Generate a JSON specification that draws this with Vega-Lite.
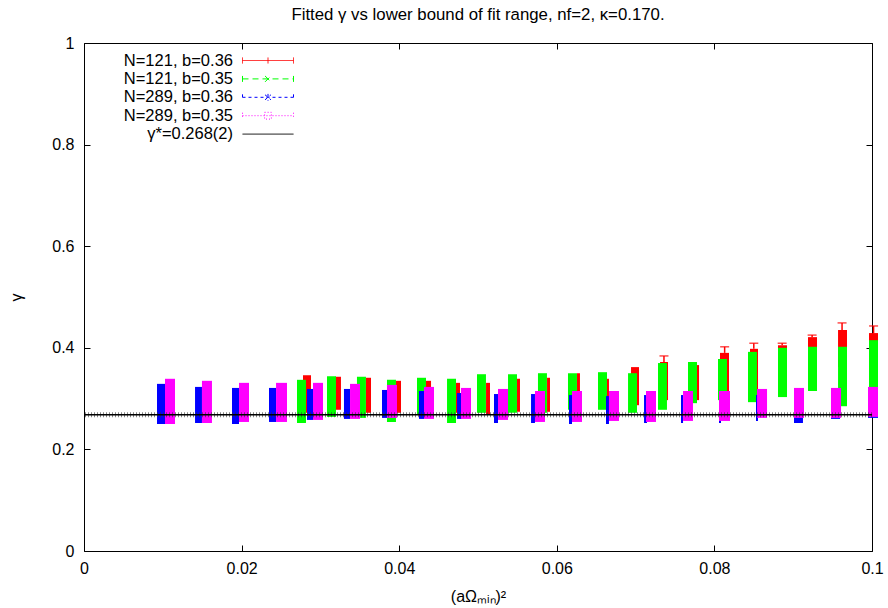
{
  "$schema": "https://vega.github.io/schema/vega-lite/v6.json",
  "width": 788,
  "height": 508,
  "autosize": {"type": "none"},
  "padding": {"left": 84, "top": 43, "right": 16, "bottom": 57},
  "background": "white",
  "title": {"text": "Fitted γ vs lower bound of fit range, nf=2, κ=0.170.", "fontSize": 16.8, "fontWeight": "normal", "font": "Liberation Sans", "color": "black", "frame": "group", "anchor": "middle", "offset": 11},
  "config": {
    "font": "Liberation Sans",
    "view": {"stroke": "black", "strokeWidth": 1},
    "axis": {"domain": false, "grid": false, "tickColor": "black", "tickSize": -6, "tickWidth": 1, "labelFont": "Liberation Sans", "labelFontSize": 16, "labelColor": "black", "titleFont": "Liberation Sans", "titleFontSize": 16, "titleFontWeight": "normal", "titleColor": "black", "labelFlush": false, "labelOverlap": false}
  },
  "datasets": {
    "clusters": [
      {"s": "N=121, b=0.36", "a": 0.02779, "b": 0.02881, "lo": 0.272, "hi": 0.346},
      {"s": "N=121, b=0.36", "a": 0.03185, "b": 0.03261, "lo": 0.278, "hi": 0.343},
      {"s": "N=121, b=0.36", "a": 0.03579, "b": 0.03642, "lo": 0.272, "hi": 0.341},
      {"s": "N=121, b=0.36", "a": 0.03959, "b": 0.04023, "lo": 0.272, "hi": 0.335},
      {"s": "N=121, b=0.36", "a": 0.04340, "b": 0.04404, "lo": 0.268, "hi": 0.335},
      {"s": "N=121, b=0.36", "a": 0.04721, "b": 0.04772, "lo": 0.272, "hi": 0.331},
      {"s": "N=121, b=0.36", "a": 0.05102, "b": 0.05152, "lo": 0.268, "hi": 0.331},
      {"s": "N=121, b=0.36", "a": 0.05495, "b": 0.05533, "lo": 0.274, "hi": 0.339},
      {"s": "N=121, b=0.36", "a": 0.05876, "b": 0.05914, "lo": 0.274, "hi": 0.341},
      {"s": "N=121, b=0.36", "a": 0.06256, "b": 0.06294, "lo": 0.274, "hi": 0.350},
      {"s": "N=121, b=0.36", "a": 0.06637, "b": 0.06662, "lo": 0.274, "hi": 0.339},
      {"s": "N=121, b=0.36", "a": 0.06942, "b": 0.07043, "lo": 0.287, "hi": 0.362},
      {"s": "N=121, b=0.36", "a": 0.07310, "b": 0.07411, "lo": 0.297, "hi": 0.372, "xc": 0.0736, "cap": 0.384},
      {"s": "N=121, b=0.36", "a": 0.07779, "b": 0.07805, "lo": 0.297, "hi": 0.366},
      {"s": "N=121, b=0.36", "a": 0.08071, "b": 0.08185, "lo": 0.307, "hi": 0.390, "xc": 0.0813, "cap": 0.402},
      {"s": "N=121, b=0.36", "a": 0.08452, "b": 0.08553, "lo": 0.307, "hi": 0.398, "xc": 0.0850, "cap": 0.409},
      {"s": "N=121, b=0.36", "a": 0.08807, "b": 0.08921, "lo": 0.317, "hi": 0.405, "xc": 0.0886, "cap": 0.409},
      {"s": "N=121, b=0.36", "a": 0.09188, "b": 0.09302, "lo": 0.362, "hi": 0.421, "xc": 0.0924, "cap": 0.425},
      {"s": "N=121, b=0.36", "a": 0.09569, "b": 0.09683, "lo": 0.362, "hi": 0.435, "xc": 0.0962, "cap": 0.449},
      {"s": "N=121, b=0.36", "a": 0.09962, "b": 0.10076, "lo": 0.356, "hi": 0.429, "xc": 0.1002, "cap": 0.443},
      {"s": "N=121, b=0.35", "a": 0.02703, "b": 0.02817, "lo": 0.252, "hi": 0.337},
      {"s": "N=121, b=0.35", "a": 0.03084, "b": 0.03198, "lo": 0.264, "hi": 0.344},
      {"s": "N=121, b=0.35", "a": 0.03464, "b": 0.03578, "lo": 0.262, "hi": 0.343},
      {"s": "N=121, b=0.35", "a": 0.03845, "b": 0.03959, "lo": 0.254, "hi": 0.337},
      {"s": "N=121, b=0.35", "a": 0.04226, "b": 0.04340, "lo": 0.268, "hi": 0.341},
      {"s": "N=121, b=0.35", "a": 0.04607, "b": 0.04721, "lo": 0.252, "hi": 0.339},
      {"s": "N=121, b=0.35", "a": 0.04987, "b": 0.05101, "lo": 0.272, "hi": 0.348},
      {"s": "N=121, b=0.35", "a": 0.05381, "b": 0.05495, "lo": 0.272, "hi": 0.348},
      {"s": "N=121, b=0.35", "a": 0.05761, "b": 0.05875, "lo": 0.272, "hi": 0.350},
      {"s": "N=121, b=0.35", "a": 0.06142, "b": 0.06256, "lo": 0.278, "hi": 0.350},
      {"s": "N=121, b=0.35", "a": 0.06523, "b": 0.06637, "lo": 0.278, "hi": 0.352},
      {"s": "N=121, b=0.35", "a": 0.06904, "b": 0.07018, "lo": 0.272, "hi": 0.350},
      {"s": "N=121, b=0.35", "a": 0.07284, "b": 0.07398, "lo": 0.278, "hi": 0.370},
      {"s": "N=121, b=0.35", "a": 0.07665, "b": 0.07779, "lo": 0.291, "hi": 0.372},
      {"s": "N=121, b=0.35", "a": 0.08046, "b": 0.08160, "lo": 0.297, "hi": 0.378},
      {"s": "N=121, b=0.35", "a": 0.08426, "b": 0.08540, "lo": 0.293, "hi": 0.392},
      {"s": "N=121, b=0.35", "a": 0.08807, "b": 0.08921, "lo": 0.303, "hi": 0.400},
      {"s": "N=121, b=0.35", "a": 0.09188, "b": 0.09302, "lo": 0.315, "hi": 0.402},
      {"s": "N=121, b=0.35", "a": 0.09569, "b": 0.09683, "lo": 0.285, "hi": 0.402},
      {"s": "N=121, b=0.35", "a": 0.09962, "b": 0.10076, "lo": 0.290, "hi": 0.415},
      {"s": "N=289, b=0.36", "a": 0.00926, "b": 0.01028, "lo": 0.250, "hi": 0.329},
      {"s": "N=289, b=0.36", "a": 0.01409, "b": 0.01497, "lo": 0.252, "hi": 0.323},
      {"s": "N=289, b=0.36", "a": 0.01878, "b": 0.01967, "lo": 0.250, "hi": 0.321},
      {"s": "N=289, b=0.36", "a": 0.02348, "b": 0.02437, "lo": 0.254, "hi": 0.321},
      {"s": "N=289, b=0.36", "a": 0.02830, "b": 0.02906, "lo": 0.258, "hi": 0.319},
      {"s": "N=289, b=0.36", "a": 0.03299, "b": 0.03376, "lo": 0.260, "hi": 0.319},
      {"s": "N=289, b=0.36", "a": 0.03782, "b": 0.03845, "lo": 0.262, "hi": 0.317},
      {"s": "N=289, b=0.36", "a": 0.04251, "b": 0.04315, "lo": 0.260, "hi": 0.315},
      {"s": "N=289, b=0.36", "a": 0.04734, "b": 0.04797, "lo": 0.260, "hi": 0.311},
      {"s": "N=289, b=0.36", "a": 0.05203, "b": 0.05254, "lo": 0.252, "hi": 0.309},
      {"s": "N=289, b=0.36", "a": 0.05673, "b": 0.05723, "lo": 0.252, "hi": 0.309},
      {"s": "N=289, b=0.36", "a": 0.06155, "b": 0.06193, "lo": 0.250, "hi": 0.307},
      {"s": "N=289, b=0.36", "a": 0.06624, "b": 0.06662, "lo": 0.250, "hi": 0.305},
      {"s": "N=289, b=0.36", "a": 0.07107, "b": 0.07145, "lo": 0.252, "hi": 0.307},
      {"s": "N=289, b=0.36", "a": 0.07576, "b": 0.07602, "lo": 0.252, "hi": 0.307},
      {"s": "N=289, b=0.36", "a": 0.08058, "b": 0.08084, "lo": 0.252, "hi": 0.307},
      {"s": "N=289, b=0.36", "a": 0.08528, "b": 0.08553, "lo": 0.256, "hi": 0.307},
      {"s": "N=289, b=0.36", "a": 0.09010, "b": 0.09124, "lo": 0.252, "hi": 0.307},
      {"s": "N=289, b=0.36", "a": 0.09480, "b": 0.09594, "lo": 0.260, "hi": 0.307},
      {"s": "N=289, b=0.36", "a": 0.09949, "b": 0.10076, "lo": 0.262, "hi": 0.307},
      {"s": "N=289, b=0.35", "a": 0.01028, "b": 0.01155, "lo": 0.250, "hi": 0.339},
      {"s": "N=289, b=0.35", "a": 0.01497, "b": 0.01624, "lo": 0.252, "hi": 0.335},
      {"s": "N=289, b=0.35", "a": 0.01967, "b": 0.02094, "lo": 0.254, "hi": 0.331},
      {"s": "N=289, b=0.35", "a": 0.02437, "b": 0.02576, "lo": 0.254, "hi": 0.331},
      {"s": "N=289, b=0.35", "a": 0.02906, "b": 0.03033, "lo": 0.258, "hi": 0.331},
      {"s": "N=289, b=0.35", "a": 0.03376, "b": 0.03503, "lo": 0.260, "hi": 0.329},
      {"s": "N=289, b=0.35", "a": 0.03845, "b": 0.03972, "lo": 0.262, "hi": 0.327},
      {"s": "N=289, b=0.35", "a": 0.04315, "b": 0.04442, "lo": 0.260, "hi": 0.323},
      {"s": "N=289, b=0.35", "a": 0.04784, "b": 0.04911, "lo": 0.260, "hi": 0.321},
      {"s": "N=289, b=0.35", "a": 0.05254, "b": 0.05381, "lo": 0.258, "hi": 0.319},
      {"s": "N=289, b=0.35", "a": 0.05723, "b": 0.05850, "lo": 0.254, "hi": 0.315},
      {"s": "N=289, b=0.35", "a": 0.06193, "b": 0.06320, "lo": 0.254, "hi": 0.315},
      {"s": "N=289, b=0.35", "a": 0.06662, "b": 0.06789, "lo": 0.256, "hi": 0.315},
      {"s": "N=289, b=0.35", "a": 0.07132, "b": 0.07259, "lo": 0.254, "hi": 0.315},
      {"s": "N=289, b=0.35", "a": 0.07602, "b": 0.07728, "lo": 0.256, "hi": 0.315},
      {"s": "N=289, b=0.35", "a": 0.08058, "b": 0.08198, "lo": 0.256, "hi": 0.315},
      {"s": "N=289, b=0.35", "a": 0.08541, "b": 0.08668, "lo": 0.262, "hi": 0.319},
      {"s": "N=289, b=0.35", "a": 0.09010, "b": 0.09137, "lo": 0.262, "hi": 0.321},
      {"s": "N=289, b=0.35", "a": 0.09480, "b": 0.09607, "lo": 0.262, "hi": 0.321},
      {"s": "N=289, b=0.35", "a": 0.09949, "b": 0.10076, "lo": 0.264, "hi": 0.323}
    ],
    "ref": [{"s": "γ*=0.268(2)", "g": 0.268}]
  },
  "resolve": {"axis": {"x": "independent", "y": "independent"}},
  "layer": [
    {
      "data": {"name": "clusters"},
      "mark": {"type": "bar"},
      "encoding": {
        "x": {"field": "a", "type": "quantitative", "scale": {"domain": [0, 0.1], "nice": false, "zero": false},
              "axis": {"orient": "bottom", "values": [0, 0.02, 0.04, 0.06, 0.08, 0.1], "format": "~g", "labelPadding": 15, "title": "(aΩₘᵢₙ)²", "titlePadding": 12}},
        "x2": {"field": "b"},
        "y": {"field": "lo", "type": "quantitative", "scale": {"domain": [0, 1], "nice": false, "zero": false},
              "axis": {"orient": "left", "values": [0, 0.2, 0.4, 0.6, 0.8, 1], "format": "~g", "labelPadding": 16, "title": "γ", "titlePadding": 27}},
        "y2": {"field": "hi"},
        "color": {"field": "s", "type": "nominal",
                  "scale": {"domain": ["N=121, b=0.36", "N=121, b=0.35", "N=289, b=0.36", "N=289, b=0.35", "γ*=0.268(2)"], "range": ["#ff0000", "#00ff00", "#0000ff", "#ff00ff", "#000000"]},
                  "legend": {"orient": "none", "legendX": 149.5, "legendY": 8.5, "title": null, "symbolType": "M0,0H6", "symbolSize": 289, "symbolStrokeWidth": 1, "labelFontSize": 16.5, "labelColor": "black", "labelAlign": "right", "labelOffset": -18.5, "rowPadding": 0.4, "padding": 0, "labelLimit": 300,
                             "encode": {"symbols": {"update": {
                               "stroke": {"scale": "color", "field": "value"},
                               "strokeDash": {"scale": "strokeDash", "field": "value"},
                               "fill": {"value": "transparent"},
                               "fillOpacity": {"value": 0},
                               "shape": {"signal": "datum.value === 'N=121, b=0.36' ? 'M0,0H6M0,-0.35V0.35M6,-0.35V0.35M3,-0.35V0.35' : datum.value === 'N=121, b=0.35' ? 'M0,0H6M0,-0.35V0.35M6,-0.35V0.35M2.65,-0.35L3.35,0.35M2.65,0.35L3.35,-0.35' : datum.value === 'N=289, b=0.36' ? 'M0,0H6M0,-0.35V0.35M6,-0.35V0.35M3,-0.4V0.4M2.65,-0.3L3.35,0.3M2.65,0.3L3.35,-0.3' : datum.value === 'N=289, b=0.35' ? 'M0,0H6M0,-0.35V0.35M6,-0.35V0.35M2.6,-0.4H3.4V0.4H2.6Z' : 'M0,0H6'"}
                             }}}}}
      }
    },
    {
      "data": {"name": "clusters"},
      "transform": [{"filter": "isValid(datum.cap)"}],
      "mark": {"type": "rule", "color": "#ff0000", "strokeWidth": 1.5},
      "encoding": {
        "x": {"field": "xc", "type": "quantitative", "scale": {"domain": [0, 0.1], "nice": false, "zero": false},
              "axis": {"orient": "top", "values": [0, 0.02, 0.04, 0.06, 0.08, 0.1], "labels": false, "title": null}},
        "y": {"field": "hi", "type": "quantitative", "scale": {"domain": [0, 1], "nice": false, "zero": false}, "axis": null},
        "y2": {"field": "cap"}
      }
    },
    {
      "data": {"name": "clusters"},
      "transform": [{"filter": "isValid(datum.cap)"}],
      "mark": {"type": "tick", "color": "#ff0000", "orient": "horizontal", "size": 9, "thickness": 1.5},
      "encoding": {
        "x": {"field": "xc", "type": "quantitative", "scale": {"domain": [0, 0.1], "nice": false, "zero": false}, "axis": null},
        "y": {"field": "cap", "type": "quantitative", "scale": {"domain": [0, 1], "nice": false, "zero": false}, "axis": null}
      }
    },
    {
      "data": {"name": "ref"},
      "mark": {"type": "rule", "strokeWidth": 5, "strokeDash": [1, 2], "color": "#333333", "opacity": 0.6},
      "encoding": {
        "y": {"field": "g", "type": "quantitative", "scale": {"domain": [0, 1], "nice": false, "zero": false}, "axis": null}
      }
    },
    {
      "data": {"name": "ref"},
      "mark": {"type": "rule", "strokeWidth": 1.5},
      "encoding": {
        "y": {"field": "g", "type": "quantitative", "scale": {"domain": [0, 1], "nice": false, "zero": false},
              "axis": {"orient": "right", "values": [0, 0.2, 0.4, 0.6, 0.8, 1], "labels": false, "title": null}},
        "color": {"field": "s", "type": "nominal", "scale": {"domain": ["N=121, b=0.36", "N=121, b=0.35", "N=289, b=0.36", "N=289, b=0.35", "γ*=0.268(2)"], "range": ["#ff0000", "#00ff00", "#0000ff", "#ff00ff", "#000000"]}},
        "strokeDash": {"field": "s", "type": "nominal", "legend": null,
                       "scale": {"domain": ["N=121, b=0.36", "N=121, b=0.35", "N=289, b=0.36", "N=289, b=0.35", "γ*=0.268(2)"], "range": [[1, 0], [6, 4], [3, 3], [1, 2], [1, 0]]}}
      }
    }
  ]
}
